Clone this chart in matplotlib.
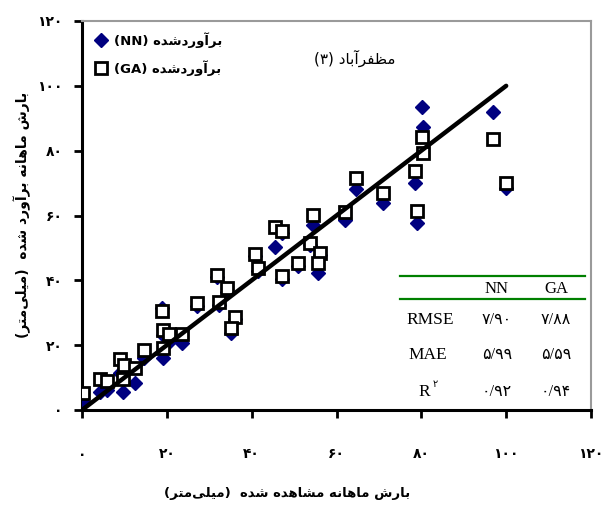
import matplotlib
matplotlib.use("Agg")
import matplotlib.pyplot as plt
from matplotlib.ticker import FixedLocator, FixedFormatter

# ---------------- data ----------------
observed = [0.3, 4.2, 6.0, 9.7, 9.0, 10.0, 12.5, 14.5, 19.2, 18.8, 19.0, 20.6, 23.5,
            27.0, 31.8, 34.1, 32.4, 36.0, 35.1, 40.8, 41.6, 47.1, 50.9, 45.5, 47.2,
            53.8, 54.5, 56.1, 55.7, 62.0, 64.6, 71.0, 78.5, 79.0, 80.2, 80.4, 97.0, 100.0]
nn_est = [2.5, 5.6, 6.2, 5.6, 11.4, 12.0, 8.3, 16.0, 16.1, 31.5, 23.0, 21.0, 20.7,
          32.0, 41.0, 36.5, 32.4, 28.0, 23.8, 47.5, 43.0, 40.5, 44.5, 50.3, 54.5,
          50.8, 57.1, 47.8, 42.3, 58.6, 68.2, 63.9, 70.1, 57.7, 93.5, 87.3, 92.0, 68.5]
ga_est = [5.2, 9.6, 9.0, 9.6, 15.7, 13.9, 12.9, 18.5, 19.1, 30.6, 24.7, 23.4, 23.4,
          33.0, 41.6, 37.6, 33.4, 28.8, 25.3, 48.1, 43.9, 41.4, 45.3, 56.5, 55.3,
          51.5, 60.2, 48.5, 45.3, 61.1, 71.6, 67.0, 73.8, 61.4, 84.2, 79.3, 83.6, 70.0]
line_x = [0, 100]
line_y = [0, 100]
tick_values = [0, 20, 40, 60, 80, 100, 120]
tick_labels = ["۰", "۲۰", "۴۰", "۶۰", "۸۰", "۱۰۰", "۱۲۰"]
table_cols = ["NN", "GA"]
table_rows = ["RMSE", "MAE", "R"]
table_vals = [["۷/۹۰", "۷/۸۸"], ["۵/۹۹", "۵/۵۹"], ["۰/۹۲", "۰/۹۴"]]

# ---------------- minimal Persian shaping ----------------
FORMS = {
    "ا": ("\uFE8D", "\uFE8E", None, None),
    "آ": ("\uFE81", "\uFE82", None, None),
    "د": ("\uFEA9", "\uFEAA", None, None),
    "ر": ("\uFEAD", "\uFEAE", None, None),
    "و": ("\uFEED", "\uFEEE", None, None),
    "ب": ("\uFE8F", "\uFE90", "\uFE91", "\uFE92"),
    "ت": ("\uFE95", "\uFE96", "\uFE97", "\uFE98"),
    "ش": ("\uFEB5", "\uFEB6", "\uFEB7", "\uFEB8"),
    "ه": ("\uFEE9", "\uFEEA", "\uFEEB", "\uFEEC"),
    "م": ("\uFEE1", "\uFEE2", "\uFEE3", "\uFEE4"),
    "ن": ("\uFEE5", "\uFEE6", "\uFEE7", "\uFEE8"),
    "ل": ("\uFEDD", "\uFEDE", "\uFEDF", "\uFEE0"),
    "ی": ("\uFBFC", "\uFBFD", "\uFBFE", "\uFBFF"),
    "ظ": ("\uFEC5", "\uFEC6", "\uFEC7", "\uFEC8"),
    "ف": ("\uFED1", "\uFED2", "\uFED3", "\uFED4"),
}


def shape_rtl(s):
    out = []
    n = len(s)
    for i, c in enumerate(s):
        if c not in FORMS:
            if c != "\u200c":
                out.append(c)
            continue
        prev = s[i - 1] if i > 0 else None
        nxt = s[i + 1] if i + 1 < n else None
        jp = prev in FORMS and FORMS[prev][2] is not None
        jn = FORMS[c][2] is not None and nxt in FORMS
        f = FORMS[c]
        if jp and jn:
            out.append(f[3])
        elif jp:
            out.append(f[1])
        elif jn:
            out.append(f[2])
        else:
            out.append(f[0])
    return "".join(reversed(out))


fa_est = shape_rtl("برآوردشده")
leg_nn = "(NN) " + fa_est
leg_ga = "(GA) " + fa_est
title_txt = "(۳) " + shape_rtl("مظفرآباد")
unit = "(" + shape_rtl("میلی\u200cمتر") + ")"
ylab = unit + "  " + shape_rtl("بارش ماهانه برآورد شده")
xlab = unit + "  " + shape_rtl("بارش ماهانه مشاهده شده")

# ---------------- figure ----------------
plt.rcParams["font.family"] = ["DejaVu Sans"]
fig = plt.figure(figsize=(6.04, 5.13), dpi=100)
ax = fig.add_axes([82 / 604, 1 - 410 / 513, (591 - 82) / 604, (410 - 21) / 513])
ax.set_xlim(0, 120)
ax.set_ylim(0, 120)

ax.plot(observed, nn_est, linestyle="none", marker="D", ms=7, color="#000080",
        mec="#000080", zorder=3)
ax.plot(observed, ga_est, linestyle="none", marker="s", ms=8.5, mfc="white",
        mec="black", mew=2, zorder=4)
ax.plot(line_x, line_y, color="black", lw=3.2, solid_capstyle="round", zorder=5)

for side in ["left", "bottom"]:
    ax.spines[side].set_linewidth(2.2)
    ax.spines[side].set_color("black")
for side in ["top", "right"]:
    ax.spines[side].set_linewidth(1.5)
    ax.spines[side].set_color("#9a9a9a")

ax.xaxis.set_major_locator(FixedLocator(tick_values))
ax.xaxis.set_major_formatter(FixedFormatter(tick_labels))
ax.yaxis.set_major_locator(FixedLocator(tick_values))
ax.yaxis.set_major_formatter(FixedFormatter(tick_labels))
ax.tick_params(axis="x", direction="out", length=6, width=2, pad=21,
               labelsize=10)
ax.tick_params(axis="y", direction="out", length=6, width=2, pad=8,
               labelsize=10)
for lab in ax.get_xticklabels() + ax.get_yticklabels():
    lab.set_fontweight("bold")

# legend (drawn manually)
ax.plot([0.037], [0.95], transform=ax.transAxes, marker="D", ms=7,
        color="#000080", clip_on=False)
ax.text(0.062, 0.95, leg_nn, transform=ax.transAxes, fontsize=9.5,
        fontweight="bold", va="center", ha="left")
ax.plot([0.037], [0.878], transform=ax.transAxes, marker="s", ms=8.5,
        mfc="white", mec="black", mew=2, clip_on=False)
ax.text(0.062, 0.878, leg_ga, transform=ax.transAxes, fontsize=9.5,
        fontweight="bold", va="center", ha="left")

# station title
ax.text((355 - 82) / 509, (410 - 58) / 389, title_txt, transform=ax.transAxes,
        fontsize=11, ha="center", va="center")

# table
def ax_xy(px, py):
    return (px - 82) / 509, (410 - py) / 389

x0, _ = ax_xy(400, 0)
x1, _ = ax_xy(585, 0)
for py in (276, 299):
    _, yy = ax_xy(0, py)
    ax.plot([x0, x1], [yy, yy], transform=ax.transAxes, color="#008000",
            lw=1.6, clip_on=False)
serif = ["Liberation Serif", "DejaVu Sans"]
col_px = [497, 556]
for cx, ctext in zip(col_px, table_cols):
    xx, yy = ax_xy(cx, 289)
    ax.text(xx, yy, ctext, transform=ax.transAxes, family=serif, fontsize=12,
            ha="center", va="center")
row_py = [320, 355, 392]
row_cx = [430, 428, 424]
for r, (py, rx) in enumerate(zip(row_py, row_cx)):
    xx, yy = ax_xy(rx, py)
    ax.text(xx, yy, table_rows[r], transform=ax.transAxes, family=serif,
            fontsize=12.5, ha="center", va="center")
    for cx, v in zip(col_px, table_vals[r]):
        xx2, _ = ax_xy(cx, py)
        ax.text(xx2, yy, v, transform=ax.transAxes, family=serif, fontsize=11.5,
                ha="center", va="center")
# superscript on R
xs, ys = ax_xy(435, 384)
ax.text(xs, ys, "۲", transform=ax.transAxes, fontsize=7, ha="center",
        va="center")

# axis labels
fig.text(287 / 604, 1 - 493 / 513, xlab, fontsize=9.5, fontweight="bold",
         ha="center", va="center")
fig.text(22 / 604, 1 - 215 / 513, ylab, fontsize=10, fontweight="bold",
         ha="center", va="center", rotation=90)

fig.savefig("out.png", dpi=100)
